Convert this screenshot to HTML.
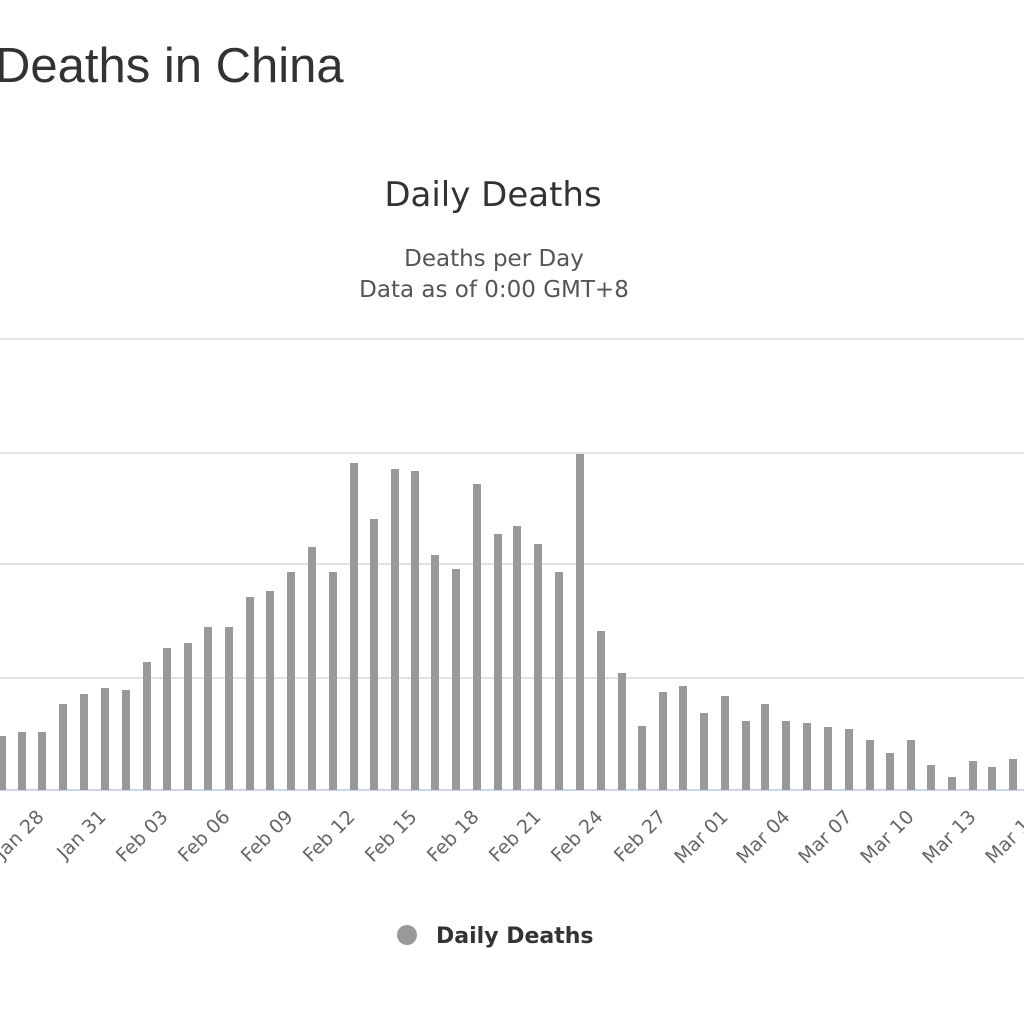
<!DOCTYPE html>
<html><head><meta charset="utf-8"><style>
html,body{margin:0;padding:0;background:#fff;width:1024px;height:1024px;overflow:hidden}
</style></head><body>
<svg width="1024" height="1024" xmlns="http://www.w3.org/2000/svg" font-family="'Liberation Sans','DejaVu Sans',sans-serif">
<text x="-5" y="82" font-size="49" fill="#333">Deaths in China</text>
<text x="493" y="206" font-size="34" fill="#333" text-anchor="middle" font-family="'DejaVu Sans',sans-serif">Daily Deaths</text>
<text x="494" y="266" font-size="23" fill="#555" text-anchor="middle" font-family="'DejaVu Sans',sans-serif">Deaths per Day</text>
<text x="494" y="297" font-size="23" fill="#555" text-anchor="middle" font-family="'DejaVu Sans',sans-serif">Data as of 0:00 GMT+8</text>
<g stroke="#e3e3e3" stroke-width="2">
<line x1="0" y1="339" x2="1024" y2="339"/><line x1="0" y1="453" x2="1024" y2="453"/>
<line x1="0" y1="564" x2="1024" y2="564"/><line x1="0" y1="678" x2="1024" y2="678"/>
</g>
<line x1="0" y1="790" x2="1024" y2="790" stroke="#ccd6eb" stroke-width="2"/>
<g fill="#999" id="bars"></g>
<g id="labels" font-size="19" fill="#666" font-family="'DejaVu Sans',sans-serif"></g>
<circle cx="407" cy="935" r="10" fill="#999"/>
<text x="436" y="943" font-size="22" font-weight="bold" fill="#333" font-family="'DejaVu Sans',sans-serif">Daily Deaths</text>
</svg>
<script>
var d=[[2,736],[22,732],[42,732],[63,704],[84,694],[105,688],[126,690],[147,662],[167,648],[188,643],[208,627],[229,627],[250,597],[270,591],[291,572],[312,547],[333,572],[354,463],[374,519],[395,469],[415,471],[435,555],[456,569],[477,484],[498,534],[517,526],[538,544],[559,572],[580,454],[601,631],[622,673],[642,726],[663,692],[683,686],[704,713],[725,696],[746,721],[765,704],[786,721],[807,723],[828,727],[849,729],[870,740],[890,753],[911,740],[931,765],[952,777],[973,761],[992,767],[1013,759]];
var g=document.getElementById('bars'),s='';
d.forEach(function(b){s+='<rect x="'+(b[0]-4)+'" y="'+b[1]+'" width="8" height="'+(790-b[1])+'"/>';});
g.innerHTML=s;
var L=['Jan 28','Jan 31','Feb 03','Feb 06','Feb 09','Feb 12','Feb 15','Feb 18','Feb 21','Feb 24','Feb 27','Mar 01','Mar 04','Mar 07','Mar 10','Mar 13','Mar 16'];
var t='';
L.forEach(function(l,i){var x=Math.round(42+20.72*3*i)+3,y=818;t+='<text x="'+x+'" y="'+y+'" text-anchor="end" transform="rotate(-45 '+x+' '+y+')">'+l+'</text>';});
document.getElementById('labels').innerHTML=t;
</script>
</body></html>
